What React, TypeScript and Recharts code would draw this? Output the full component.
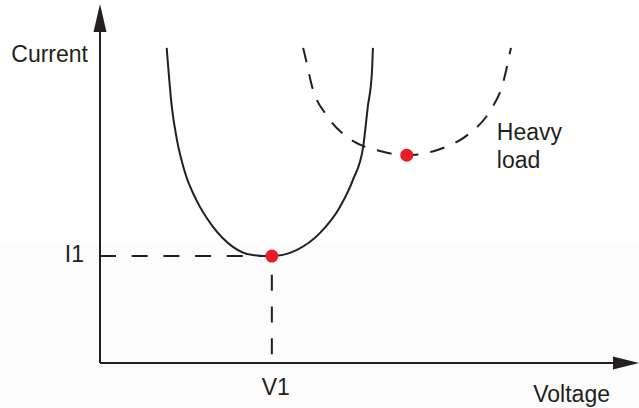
import { ComposedChart, Line, XAxis, YAxis, ReferenceLine, ReferenceDot } from "recharts"

// normal load curve (solid)
const normalVoltage = [1.3, 1.4, 1.5, 1.66, 1.88, 2.2, 2.59, 2.98, 3.35, 3.83, 4.29, 4.68, 4.93, 5.13, 5.22, 5.3, 5.32]
const normalCurrent = [9.52, 7.74, 6.74, 5.74, 4.92, 4.12, 3.51, 3.26, 3.23, 3.41, 3.93, 4.72, 5.53, 6.53, 7.74, 8.76, 9.52]

// heavy load curve (dashed)
const heavyVoltage = [3.96, 4.0, 4.14, 4.43, 4.87, 5.42, 5.98, 6.66, 7.19, 7.6, 7.85, 8.01]
const heavyCurrent = [9.52, 9.26, 8.32, 7.46, 6.77, 6.42, 6.28, 6.48, 6.92, 7.61, 8.43, 9.52]

// red operating points
const pointVoltage = [3.35, 5.98]
const pointCurrent = [3.23, 6.28]

const xTickLabels = ["V1"]
const yTickLabels = ["I1"]
const axisTitles = ["Voltage", "Current"]
const curveLabel = ["Heavy", "load"]

const normalData = normalVoltage.map((v, i) => ({ v, i: normalCurrent[i] }))
const heavyData = heavyVoltage.map((v, i) => ({ v, i: heavyCurrent[i] }))

const INK = "#231f20"
const RED = "#ed1c24"
const FONT = "'Liberation Sans', Arial, Helvetica, sans-serif"

const textStyle = { fill: INK, fontSize: 23, fontFamily: FONT }

const XTick = (p: any) => (
    <text x={p.x + 4} y={p.y + 32} textAnchor="middle" {...textStyle}>
        {xTickLabels[p.index]}
    </text>
)

const YTick = (p: any) => (
    <text x={p.x - 16} y={p.y + 6} textAnchor="end" {...textStyle}>
        {yTickLabels[p.index]}
    </text>
)

const XTitle = ({ viewBox }: any) => (
    <text x={viewBox.x + viewBox.width - 3} y={viewBox.y + 39} textAnchor="end" {...textStyle}>
        {axisTitles[0]}
    </text>
)

const YTitle = ({ viewBox }: any) => (
    <text x={viewBox.x + viewBox.width - 12} y={viewBox.y + 30} textAnchor="end" {...textStyle}>
        {axisTitles[1]}
    </text>
)

const HeavyLabel = ({ viewBox }: any) => {
    const cx = viewBox.x + viewBox.width / 2
    const cy = viewBox.y + viewBox.height / 2
    return (
        <text x={cx + 90} y={cy - 15} {...textStyle}>
            <tspan x={cx + 90}>{curveLabel[0]}</tspan>
            <tspan x={cx + 90} dy={28.3}>{curveLabel[1]}</tspan>
        </text>
    )
}

const ArrowRight = ({ cx, cy }: any) => (
    <polygon points={`${cx},${cy - 6.5} ${cx + 26},${cy} ${cx},${cy + 6.5}`} fill={INK} />
)

const ArrowUp = ({ cx, cy }: any) => (
    <polygon points={`${cx - 6.5},${cy} ${cx},${cy - 28} ${cx + 6.5},${cy}`} fill={INK} />
)

export default function App() {
    return (
        <div
            style={{
                position: "absolute",
                left: 0,
                top: 0,
                width: 639,
                height: 408,
                background: "linear-gradient(#ffffff 0, #ffffff 242px, #fcfcfc 242px)",
            }}
        >
            <ComposedChart width={639} height={408} margin={{ top: 32, right: 26, bottom: 0, left: 40 }}>
                <XAxis
                    dataKey="v"
                    type="number"
                    domain={[0, 10]}
                    allowDataOverflow
                    ticks={[pointVoltage[0]]}
                    interval={0}
                    height={45}
                    tickSize={0}
                    tickMargin={0}
                    tickLine={false}
                    axisLine={{ stroke: INK, strokeWidth: 2 }}
                    tick={<XTick />}
                    label={{ content: <XTitle /> }}
                />
                <YAxis
                    dataKey="i"
                    type="number"
                    domain={[0, 10]}
                    allowDataOverflow
                    ticks={[pointCurrent[0]]}
                    interval={0}
                    width={60}
                    tickSize={0}
                    tickMargin={0}
                    tickLine={false}
                    axisLine={{ stroke: INK, strokeWidth: 2 }}
                    tick={<YTick />}
                    label={{ content: <YTitle /> }}
                />

                <ReferenceLine
                    segment={[{ x: 0, y: pointCurrent[0] }, { x: pointVoltage[0], y: pointCurrent[0] }]}
                    stroke={INK}
                    strokeWidth={2}
                    strokeDasharray="16 15.7"
                />
                <ReferenceLine
                    segment={[{ x: pointVoltage[0], y: pointCurrent[0] }, { x: pointVoltage[0], y: 0 }]}
                    stroke={INK}
                    strokeWidth={2}
                    strokeDasharray="16 15.7"
                    strokeDashoffset={13}
                />

                <Line
                    data={normalData}
                    dataKey="i"
                    type="monotone"
                    stroke={INK}
                    strokeWidth={2}
                    dot={false}
                    activeDot={false}
                    isAnimationActive={false}
                />
                <Line
                    data={heavyData}
                    dataKey="i"
                    type="monotone"
                    stroke={INK}
                    strokeWidth={2}
                    strokeDasharray="15 12"
                    dot={false}
                    activeDot={false}
                    isAnimationActive={false}
                />

                <ReferenceDot x={10} y={0} r={0} shape={<ArrowRight />} ifOverflow="visible" />
                <ReferenceDot x={0} y={10} r={0} shape={<ArrowUp />} ifOverflow="visible" />

                <ReferenceDot x={pointVoltage[0]} y={pointCurrent[0]} r={6.5} fill={RED} stroke="none" />
                <ReferenceDot
                    x={pointVoltage[1]}
                    y={pointCurrent[1]}
                    r={6.5}
                    fill={RED}
                    stroke="none"
                    label={{ content: <HeavyLabel /> }}
                />
            </ComposedChart>
        </div>
    )
}
